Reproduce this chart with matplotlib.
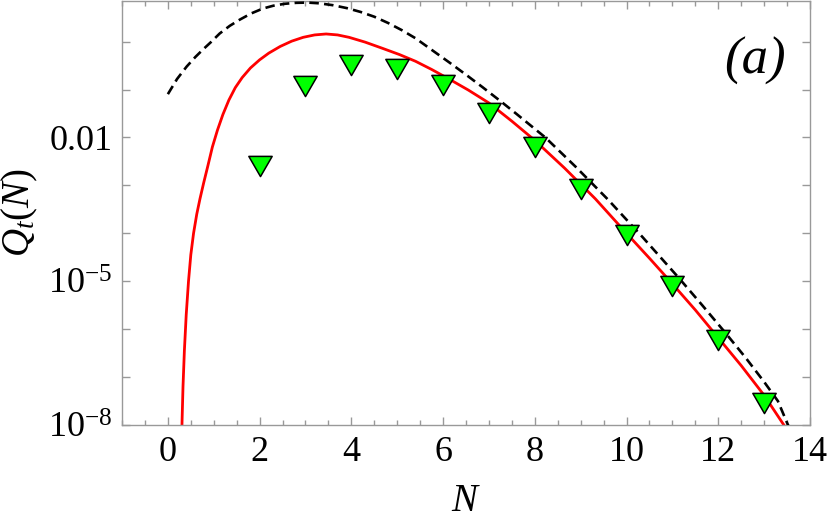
import numpy as np
import matplotlib
matplotlib.use("Agg")
import matplotlib.pyplot as plt
from matplotlib.path import Path
from matplotlib.ticker import FixedLocator, FuncFormatter

plt.rcParams['font.family'] = ['Liberation Serif', 'DejaVu Serif']
plt.rcParams['mathtext.fontset'] = 'custom'
plt.rcParams['mathtext.rm'] = 'Liberation Serif'
plt.rcParams['mathtext.it'] = 'Liberation Serif:italic'
plt.rcParams['mathtext.bf'] = 'Liberation Serif:bold'

# ---- data ----
N_sim = [2, 3, 4, 5, 6, 7, 8, 9, 10, 11, 12, 13]
Q_sim = [2.6e-3, 0.118, 0.322, 0.274, 0.124, 0.0327, 6.2e-3, 8.5e-4,
         9.2e-5, 7.9e-6, 6.0e-7, 2.9e-8]

N_red = [0.30, 0.31, 0.33, 0.36, 0.40, 0.45, 0.50, 0.56, 0.63, 0.70, 0.78,
         0.87, 0.97, 1.08, 1.20, 1.33, 1.47, 1.62, 1.80, 2.00, 2.20, 2.45,
         2.70, 2.95, 3.20, 3.45, 3.70, 3.95, 4.30, 4.68, 5.05, 5.40, 5.75,
         6.13, 6.55, 7.00, 7.50, 8.00, 8.65, 9.32, 10.00, 10.50, 10.95,
         11.50, 12.00, 12.50, 13.00, 13.43, 13.60]
logQ_red = [-8.3, -7.9, -7.2, -6.45, -5.7, -5.0, -4.45, -4.0, -3.6, -3.28,
            -2.95, -2.6, -2.2, -1.85, -1.52, -1.22, -0.96, -0.75, -0.55,
            -0.38, -0.24, -0.10, 0.01, 0.09, 0.14, 0.16, 0.14, 0.09, -0.01,
            -0.14, -0.27, -0.41, -0.58, -0.78, -1.01, -1.28, -1.66, -2.06,
            -2.64, -3.28, -4.0, -4.52, -5.0, -5.6, -6.18, -6.76, -7.38, -8.0,
            -8.22]

N_blk = [0.0, 0.2, 0.41, 0.6, 0.77, 0.95, 1.13, 1.35, 1.57, 1.82, 2.07, 2.3,
         2.55, 2.8, 3.05, 3.3, 3.6, 3.9, 4.2, 4.5, 4.8, 5.1, 5.4, 5.75, 6.13,
         6.5, 6.86, 7.25, 7.59, 8.23, 8.9, 9.6, 10.35, 11.13, 11.65, 12.15,
         12.6, 13.0, 13.3, 13.52, 13.7]
logQ_blk = [-1.096, -0.78, -0.52, -0.32, -0.16, 0.0, 0.17, 0.33, 0.46, 0.59,
            0.69, 0.75, 0.79, 0.81, 0.815, 0.80, 0.76, 0.70, 0.62, 0.52,
            0.39, 0.24, 0.07, -0.17, -0.43, -0.69, -0.95, -1.24, -1.5, -2.0,
            -2.62, -3.3, -4.08, -4.92, -5.5, -6.07, -6.6, -7.1, -7.5, -8.0,
            -8.25]

x_ticks = [0, 2, 4, 6, 8, 10, 12, 14]
y_label_exps = [-8, -5, -2]

Q_red = [10.0 ** v for v in logQ_red]
Q_blk = [10.0 ** v for v in logQ_blk]

fig = plt.figure(figsize=(8.30, 5.28), dpi=100)
ax = fig.add_axes([122 / 830, 103 / 528, 688 / 830, 424 / 528])
ax.set_yscale('log')

ax.plot(N_blk, Q_blk, color='black', lw=1.9, dashes=(3.6, 2.0), zorder=3)
ax.plot(N_red, Q_red, color='#ff0000', lw=2.0, zorder=2)

tri = Path([(-1, 0.866), (1, 0.866), (0, -0.866), (-1, 0.866)],
           [Path.MOVETO, Path.LINETO, Path.LINETO, Path.CLOSEPOLY])
ax.plot(N_sim, Q_sim, linestyle='none', marker=tri, markersize=16.8,
        markerfacecolor='#00ff00', markeredgecolor='black',
        markeredgewidth=1.1, zorder=4)

ax.set_xlim(-1, 14)
ax.set_ylim(1e-8, 10 ** 0.848)

frame_col = '#999999'
for s in ax.spines.values():
    s.set_color(frame_col)
    s.set_linewidth(1.0)

ax.xaxis.set_major_locator(FixedLocator(x_ticks))
ax.xaxis.set_minor_locator(FixedLocator(np.arange(-1, 14.01, 0.5)))
ax.yaxis.set_major_locator(FixedLocator([10.0 ** k for k in range(-8, 1)]))
ax.yaxis.set_minor_locator(FixedLocator([]))


def yfmt(v, pos):
    k = int(round(np.log10(v)))
    if k not in y_label_exps:
        return ''
    if k == -2:
        return '0.01'
    return r'$10^{%d}$' % k


ax.yaxis.set_major_formatter(FuncFormatter(yfmt))
ax.xaxis.set_major_formatter(FuncFormatter(lambda v, p: '%d' % v))

ax.tick_params(which='both', direction='in', color=frame_col, top=True,
               right=True, labelsize=26, labelcolor='black')
ax.tick_params(axis='x', which='major', length=6, width=1.0, pad=8)
ax.tick_params(axis='x', which='minor', length=3.5, width=1.0)
ax.tick_params(axis='y', which='major', length=6, width=1.0, pad=7)

ax.set_xlabel(r'$N$', fontsize=28, labelpad=10)
ax.set_ylabel(r'$Q_t(N)$', fontsize=28, labelpad=6)

fig.text(755 / 830, 1 - 61 / 528, '(a)', fontsize=38, style='italic',
         ha='center', va='center')

fig.savefig('out.png', dpi=100)
